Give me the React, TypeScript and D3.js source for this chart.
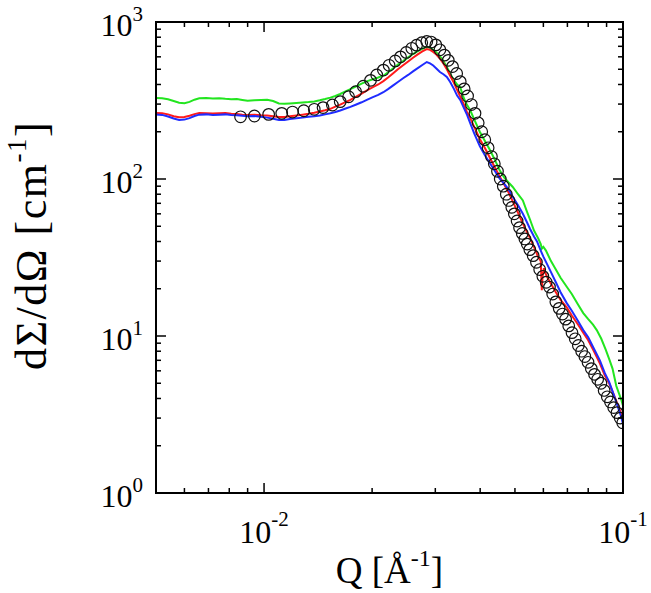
import React from "react";
import * as d3 from "d3";

const W = 651;
const H = 593;
const M = { left: 156, right: 623, top: 22, bottom: 493 };

const xDomain = [0.005, 0.1];
const yDomain = [1, 1000];

const xMajorTicks = [0.01, 0.1];
const xMajorLabels = [["10", "-2"], ["10", "-1"]];
const xMinorTicks = [0.006, 0.007, 0.008, 0.009, 0.02, 0.03, 0.04, 0.05, 0.06, 0.07, 0.08, 0.09];
const yMajorTicks = [1, 10, 100, 1000];
const yMajorLabels = [["10", "0"], ["10", "1"], ["10", "2"], ["10", "3"]];
const yMinorMultipliers = [2, 3, 4, 5, 6, 7, 8, 9];

const xTitle = "Q [Å";
const yTitle = "dΣ/dΩ [cm";

// Circles: experimental data (Q, I)
const circleQ = [
  0.0086, 0.0094, 0.0103, 0.0112, 0.012, 0.0129, 0.0138, 0.0146, 0.0155, 0.0163,
  0.0172, 0.018, 0.0189, 0.0198, 0.0206, 0.0215, 0.0223, 0.0232, 0.024, 0.0249,
  0.0258, 0.0266, 0.0275, 0.0284, 0.0292, 0.0301, 0.0309, 0.0318, 0.0326, 0.0335,
  0.0344, 0.0352, 0.0361, 0.0369, 0.0378, 0.0387, 0.0395, 0.0404, 0.0412, 0.0421,
  0.043, 0.0438, 0.0447, 0.0455, 0.0464, 0.0473, 0.0481, 0.049, 0.0498, 0.0507,
  0.0515, 0.0524, 0.0533, 0.0541, 0.055, 0.0562, 0.0574, 0.0586, 0.0598, 0.0611,
  0.0624, 0.0637, 0.065, 0.0664, 0.0678, 0.0692, 0.0706, 0.0721, 0.0736, 0.0751,
  0.0767, 0.0783, 0.0799, 0.0816, 0.0833, 0.085, 0.0868, 0.0886, 0.0904, 0.0923,
  0.0942, 0.0962, 0.0982, 0.0998,
];
const circleI = [
  249, 252, 258, 262, 267, 272, 278, 285, 296, 311,
  334, 360, 390, 425, 460, 494, 530, 565, 600, 640,
  680, 712, 738, 752, 745, 715, 665, 615, 570, 520,
  470, 417, 375, 338, 298, 262, 228, 200, 178, 158,
  139, 125, 112, 100, 90, 80, 73, 66, 60, 54,
  49, 45, 41.5, 38.5, 35.5, 32.5, 29.5, 26.5, 24, 22,
  20.5, 18.5, 16.5, 15, 13.8, 12.8, 11.6, 10.5, 9.6, 8.7,
  8.0, 7.4, 6.8, 6.2, 5.7, 5.3, 5.0, 4.5, 4.1, 3.8,
  3.5, 3.25, 3.0, 2.8,
];

const greenQ = [
  0.005, 0.0052, 0.0054, 0.0056, 0.0058, 0.006, 0.0062, 0.0064, 0.0066, 0.0069,
  0.0072, 0.0075, 0.0078, 0.0081, 0.0084, 0.0087, 0.009, 0.0094, 0.0098, 0.0102,
  0.0106, 0.011, 0.0114, 0.0118, 0.0123, 0.0128, 0.0133, 0.0138, 0.0143, 0.0148,
  0.0153, 0.0158, 0.0163, 0.0168, 0.0174, 0.018, 0.0187, 0.0194, 0.0201, 0.0208,
  0.0215, 0.0222, 0.0229, 0.0236, 0.0244, 0.0252, 0.026, 0.0268, 0.0276, 0.0284,
  0.029, 0.0296, 0.0302, 0.0309, 0.0316, 0.0323, 0.033, 0.0338, 0.0345, 0.0352,
  0.0358, 0.0365, 0.0375, 0.0385, 0.0399, 0.0412, 0.0426, 0.044, 0.0453, 0.0467,
  0.048, 0.0493, 0.051, 0.0526, 0.054, 0.0551, 0.0565, 0.058, 0.059, 0.0594,
  0.06, 0.061, 0.063, 0.065, 0.067, 0.0697, 0.072, 0.075, 0.0775, 0.08,
  0.0825, 0.0845, 0.087, 0.0895, 0.0918, 0.0935, 0.0958, 0.0975, 0.099, 0.1,
];
const greenI = [
  328, 327, 322, 314, 306, 304, 310, 320, 327, 328,
  326, 327, 324, 322, 323, 319, 315, 317, 319, 320,
  314, 303, 301, 303, 305, 307, 309, 312, 317, 323,
  330, 338, 348, 360, 374, 388, 405, 420, 432, 443,
  455, 480, 508, 535, 563, 595, 625, 652, 675, 695,
  685, 665, 640, 605, 565, 517, 468, 425, 400, 385,
  340, 305, 275, 240, 200, 175, 153, 132, 114, 102,
  95, 89, 80, 73, 62, 55, 47, 42, 38.5, 36,
  37, 35, 30, 26.5, 23.5, 20.6, 18.5, 15.8, 14, 12.8,
  11.8, 10.9, 9.6, 8.2, 7.0, 6.2, 4.8, 4.3, 3.9, 3.6,
];

const redQ = [
  0.005, 0.0052, 0.0054, 0.0056, 0.0058, 0.006, 0.0062, 0.0064, 0.0066, 0.0069,
  0.0072, 0.0075, 0.0078, 0.0081, 0.0084, 0.0087, 0.009, 0.0094, 0.0098, 0.0102,
  0.0106, 0.011, 0.0114, 0.0118, 0.0123, 0.0128, 0.0133, 0.0138, 0.0143, 0.0148,
  0.0153, 0.0158, 0.0163, 0.0168, 0.0174, 0.018, 0.0187, 0.0194, 0.0201, 0.0208,
  0.0215, 0.0222, 0.0229, 0.0236, 0.0244, 0.0252, 0.026, 0.0268, 0.0276, 0.0284,
  0.029, 0.0296, 0.0302, 0.0309, 0.0316, 0.0323, 0.033, 0.0338, 0.0345, 0.0352,
  0.036, 0.0368, 0.0375, 0.0385, 0.0399, 0.0412, 0.0426, 0.044, 0.0453, 0.0467,
  0.048, 0.0493, 0.051, 0.0526, 0.054, 0.0551, 0.0565, 0.058, 0.059, 0.0594,
  0.0597, 0.0602, 0.0613, 0.063, 0.065, 0.067, 0.0697, 0.072, 0.075, 0.0775,
  0.08, 0.083, 0.0862, 0.089, 0.0915, 0.094, 0.0965, 0.0989, 0.1,
];
const redI = [
  263, 262, 258, 251, 247, 248, 253, 259, 263, 262,
  261, 262, 263, 260, 259, 257, 256, 257, 255, 254,
  251, 248, 248, 251, 254, 257, 260, 264, 269, 274,
  280, 289, 298, 308, 319, 333, 350, 368, 385, 400,
  420, 445, 472, 500, 530, 560, 592, 622, 650, 673,
  665, 645, 620, 585, 545, 500, 455, 410, 370, 335,
  300, 265, 245, 215, 180, 158, 136, 118, 104, 92,
  82, 72, 61, 52, 46, 42, 37, 32, 30, 19.6,
  24, 27, 24, 21.5, 19, 17, 15.2, 13.5, 11.8, 10.5,
  9.4, 8.0, 6.7, 5.6, 5.0, 4.3, 3.7, 3.2, 3.0,
];

const blueQ = [
  0.005, 0.0052, 0.0054, 0.0056, 0.0058, 0.006, 0.0062, 0.0064, 0.0066, 0.0069,
  0.0072, 0.0075, 0.0078, 0.0081, 0.0084, 0.0087, 0.009, 0.0094, 0.0098, 0.0102,
  0.0106, 0.011, 0.0114, 0.0118, 0.0123, 0.0128, 0.0133, 0.0138, 0.0143, 0.0148,
  0.0153, 0.0158, 0.0163, 0.0168, 0.0174, 0.018, 0.0187, 0.0194, 0.0201, 0.0208,
  0.0215, 0.0222, 0.0229, 0.0236, 0.0244, 0.0252, 0.026, 0.0268, 0.0276, 0.0284,
  0.029, 0.0296, 0.0302, 0.0309, 0.0316, 0.0323, 0.033, 0.0338, 0.0345, 0.0352,
  0.036, 0.0368, 0.0375, 0.0385, 0.0399, 0.0412, 0.0426, 0.044, 0.0453, 0.0467,
  0.048, 0.0493, 0.051, 0.0526, 0.054, 0.0551, 0.0565, 0.0576, 0.059, 0.06,
  0.0613, 0.063, 0.065, 0.067, 0.0697, 0.072, 0.075, 0.0775, 0.08, 0.083,
  0.0862, 0.089, 0.0915, 0.094, 0.0965, 0.0989, 0.1,
];
const blueI = [
  258, 256, 250, 243, 238, 239, 244, 252, 257, 258,
  256, 257, 258, 256, 255, 253, 251, 252, 249, 246,
  242, 238, 238, 241, 244, 246, 249, 251, 254, 258,
  262, 267, 273, 280, 288, 297, 308, 320, 332, 343,
  357, 375, 395, 415, 438, 460, 485, 508, 532, 556,
  545, 528, 505, 480, 465, 447, 415, 375, 340, 319,
  285, 255, 228, 195, 162, 142, 126, 112, 101, 93,
  86, 77, 68, 60, 53, 48, 43, 40, 35, 32,
  29, 25.5, 22, 19, 16.2, 14.5, 12.4, 10.9, 9.8, 8.3,
  7.0, 5.8, 5.1, 4.3, 3.6, 3.05, 2.75,
];

const FONT = "'Liberation Serif', 'Times New Roman', Times, serif";

export default function App() {
  const x = d3.scaleLog().domain(xDomain).range([M.left, M.right]);
  const y = d3.scaleLog().domain(yDomain).range([M.bottom, M.top]);

  const line = d3
    .line<[number, number]>()
    .x((d) => x(d[0]))
    .y((d) => y(d[1]));

  const zip = (q: number[], v: number[]) => q.map((qq, i) => [qq, v[i]] as [number, number]);

  const series = [
    { q: greenQ, v: greenI, color: "#22e51f" },
    { q: redQ, v: redI, color: "#ff1a1a" },
    { q: blueQ, v: blueI, color: "#1f2cff" },
  ];

  const yMinor: number[] = [];
  [1, 10, 100].forEach((dec) => yMinorMultipliers.forEach((m) => yMinor.push(dec * m)));

  const majLen = 10;
  const minLen = 5;
  const tickStroke = "#000";

  return (
    <svg
      width={W}
      height={H}
      style={{ position: "absolute", left: 0, top: 0, display: "block", background: "#fff" }}
      fontFamily={FONT}
    >
      <defs>
        <clipPath id="plotclip">
          <rect x={M.left} y={M.top} width={M.right - M.left} height={M.bottom - M.top} />
        </clipPath>
      </defs>
      <rect x={0} y={0} width={W} height={H} fill="#fff" />

      <g clipPath="url(#plotclip)">
        {series.map((s, i) => (
          <path key={i} d={line(zip(s.q, s.v)) || ""} fill="none" stroke={s.color} strokeWidth={2} />
        ))}
        {circleQ.map((q, i) => (
          <circle key={i} cx={x(q)} cy={y(circleI[i])} r={5.8} fill="none" stroke="#111" strokeWidth={1.2} />
        ))}
      </g>

      {/* ticks */}
      <g stroke={tickStroke} strokeWidth={1.5}>
        {xMajorTicks.map((t, i) => (
          <g key={"xM" + i}>
            <line x1={x(t)} x2={x(t)} y1={M.bottom} y2={M.bottom - majLen} />
            <line x1={x(t)} x2={x(t)} y1={M.top} y2={M.top + majLen} />
          </g>
        ))}
        {xMinorTicks.map((t, i) => (
          <g key={"xm" + i}>
            <line x1={x(t)} x2={x(t)} y1={M.bottom} y2={M.bottom - minLen} />
            <line x1={x(t)} x2={x(t)} y1={M.top} y2={M.top + minLen} />
          </g>
        ))}
        {yMajorTicks.map((t, i) => (
          <g key={"yM" + i}>
            <line x1={M.left} x2={M.left + majLen} y1={y(t)} y2={y(t)} />
            <line x1={M.right} x2={M.right - majLen} y1={y(t)} y2={y(t)} />
          </g>
        ))}
        {yMinor.map((t, i) => (
          <g key={"ym" + i}>
            <line x1={M.left} x2={M.left + minLen} y1={y(t)} y2={y(t)} />
            <line x1={M.right} x2={M.right - minLen} y1={y(t)} y2={y(t)} />
          </g>
        ))}
      </g>

      {/* frame */}
      <rect
        x={M.left}
        y={M.top}
        width={M.right - M.left}
        height={M.bottom - M.top}
        fill="none"
        stroke="#000"
        strokeWidth={2}
      />

      {/* x tick labels */}
      {xMajorTicks.map((t, i) => (
        <text key={"xl" + i} x={x(t)} y={M.bottom + 50} textAnchor="middle" fontSize={32} fill="#000">
          {xMajorLabels[i][0]}
          <tspan fontSize={21} dy={-17}>
            {xMajorLabels[i][1]}
          </tspan>
        </text>
      ))}

      {/* y tick labels */}
      {yMajorTicks.map((t, i) => (
        <text key={"yl" + i} x={M.left - 13} y={y(t) + 14} textAnchor="end" fontSize={32} fill="#000">
          {yMajorLabels[i][0]}
          <tspan fontSize={21} dy={-15}>
            {yMajorLabels[i][1]}
          </tspan>
        </text>
      ))}

      {/* x title */}
      <text x={(M.left + M.right) / 2} y={583} textAnchor="middle" fontSize={37} fill="#000">
        {xTitle}
        <tspan fontSize={24} dy={-17}>
          -1
        </tspan>
        <tspan dy={17}>]</tspan>
      </text>

      {/* y title */}
      <text
        transform={`translate(46, ${(M.top + M.bottom) / 2 - 12}) rotate(-90)`}
        textAnchor="middle"
        fontSize={44}
        letterSpacing={1.5}
        fill="#000"
      >
        {yTitle}
        <tspan fontSize={27} dy={-20}>
          -1
        </tspan>
        <tspan dy={20}>]</tspan>
      </text>
    </svg>
  );
}
